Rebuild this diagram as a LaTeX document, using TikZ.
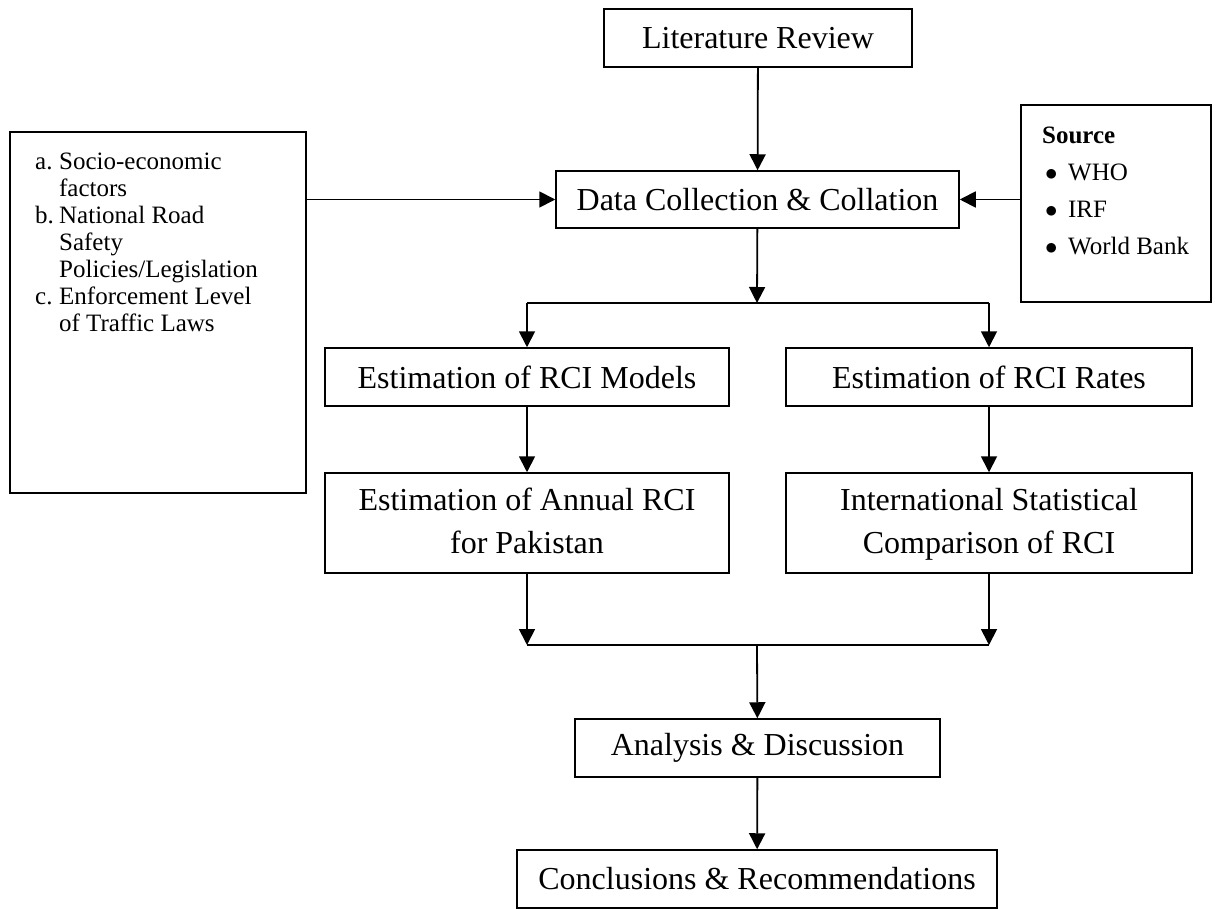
\documentclass[tikz,border=0pt]{standalone}
\usepackage{fontspec}
\setmainfont{Liberation Serif}
\usetikzlibrary{arrows.meta,positioning}

\begin{document}
\begin{tikzpicture}[x=1pt, y=-1pt, line width=1.8pt, >={Triangle[width=16pt,length=16pt]},
    box/.style={rectangle, draw, line width=1.5pt, inner sep=0pt, align=center, font=\fontsize{32}{43}\selectfont},
    listtext/.style={inner sep=0pt, anchor=north west, font=\fontsize{25}{27}\selectfont}]
    \useasboundingbox (0,0) rectangle (1223,909);
    \node[box, minimum width=308pt, minimum height=58pt] (lit) at (758,38) {Literature Review};
    \node[box, minimum width=403pt, minimum height=57pt] (data) at (757.5,199.5) {Data Collection \& Collation};
    \node[box, minimum width=404pt, minimum height=58pt] (models) at (527,377) {Estimation of RCI Models};
    \node[box, minimum width=406pt, minimum height=58pt] (rates) at (989,377) {Estimation of RCI Rates};
    \node[box, minimum width=404pt, minimum height=100pt] (annual) at (527,523) {Estimation of Annual RCI\strut\\for Pakistan\strut};
    \node[box, minimum width=406pt, minimum height=100pt] (intl) at (989,523) {International Statistical\strut\\Comparison of RCI\strut};
    \node[box, minimum width=365pt, minimum height=58pt] (analysis) at (757.5,748) {Analysis \& Discussion};
    \node[box, minimum width=480pt, minimum height=58pt] (concl) at (757,879) {Conclusions \& Recommendations};
    % side boxes
    \node[box, minimum width=296pt, minimum height=361pt] (factors) at (158,312.5) {};
    \node[listtext] (factlist) at ([xshift=25pt,yshift=-18pt]factors.north west) {\begin{tabular}{@{}p{24pt}@{}l@{}}
        a. & Socio-economic\\
           & factors\\
        b. & National Road\\
           & Safety\\
           & Policies/Legislation\\
        c. & Enforcement Level\\
           & of Traffic Laws
    \end{tabular}};
    \node[box, minimum width=190pt, minimum height=197pt] (source) at (1116,203.5) {};
    \node[listtext, font=\fontsize{25}{37}\selectfont] (srclist) at ([xshift=21pt,yshift=-12pt]source.north west) {\begin{tabular}{@{}l@{}}
        \textbf{Source}\\
        \hspace{3pt}\makebox[23pt][l]{$\bullet$}WHO\\
        \hspace{3pt}\makebox[23pt][l]{$\bullet$}IRF\\
        \hspace{3pt}\makebox[23pt][l]{$\bullet$}World Bank
    \end{tabular}};
    \coordinate (split) at (757,303);
    \coordinate (join) at (757,645);
    % connectors
    \draw[->] (lit) -- (data);
    \draw[->] (factors.east |- data) -- (data.west);
    \draw[->] (source.west |- data) -- (data.east);
    \draw[->] (data) -- (split);
    \draw (models.north |- split) -- (rates.north |- split);
    \draw[->] (models.north |- split) -- (models.north);
    \draw[->] (rates.north |- split) -- (rates.north);
    \draw[->] (models) -- (annual);
    \draw[->] (rates) -- (intl);
    \draw[->] (annual.south) -- (annual.south |- join);
    \draw[->] (intl.south) -- (intl.south |- join);
    \draw (annual.south |- join) -- (intl.south |- join);
    \draw[->] (join) -- (analysis);
    \draw[->] (analysis) -- (concl);
\end{tikzpicture}
\end{document}
